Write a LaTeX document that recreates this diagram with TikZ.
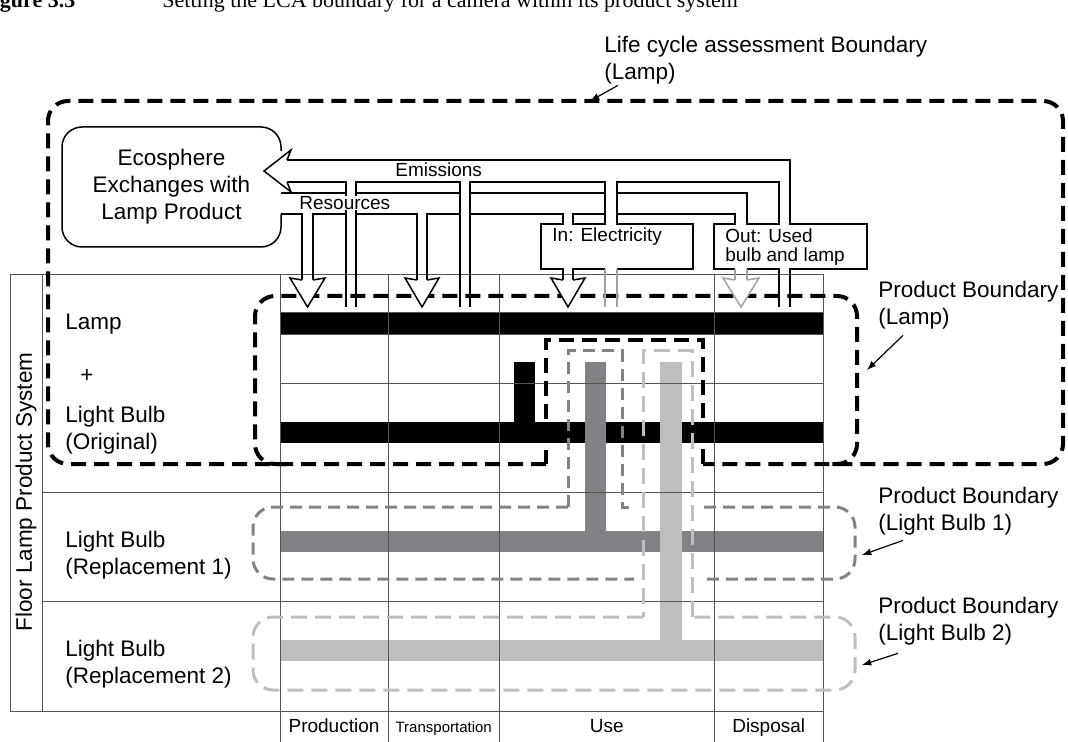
\documentclass[tikz,border=0pt]{standalone}
\usepackage{fontspec}
\setmainfont{Liberation Sans}
\newfontfamily\capfont{Liberation Serif}
\usetikzlibrary{calc}
\definecolor{bulbdark}{RGB}{128,130,133}
\definecolor{bulblight}{RGB}{188,190,192}
\definecolor{gridgray}{RGB}{85,85,85}

\begin{document}
\begin{tikzpicture}[x=0.5pt,y=-0.5pt,
    tablegrid/.style={gridgray, line width=0.5pt},
    pipe/.style={line width=0.75pt, line join=miter},
    graypipe/.style={pipe, bulblight!85!black},
    head/.style={pipe, fill=white},
    lcabound/.style={line width=2pt, dash pattern=on 7.5pt off 4pt},
    bulbbound/.style={bulbdark, line width=1.5pt, dash pattern=on 6pt off 3.5pt},
    bulbboundb/.style={bulblight, line width=1.5pt, dash pattern=on 8pt off 4pt},
    txt/.style={font=\fontsize{11.25}{13.5}\selectfont, inner sep=0pt},
    small/.style={font=\fontsize{9.5}{9.5}\selectfont, inner sep=0pt},
    pointer/.style={-latex, line width=0.6pt}]
    \useasboundingbox (0,0) rectangle (1068,742);
    % Caption (cut off at the top)
    \node[anchor=base west, inner sep=0pt, font=\capfont\fontsize{11}{13}\selectfont\bfseries] (figno) at (-20,8) {Figure 3.3};
    \node[anchor=base west, inner sep=0pt, font=\capfont\fontsize{11}{13}\selectfont] (figcap) at (162,8) {Setting the LCA boundary for a camera within its product system};
    % Bars of the product system
    \fill (280,313) rectangle (823,335);
    \fill (280,422) rectangle (823,443);
    \fill (513.5,362) rectangle (535,443);
    \fill[bulbdark] (280,531) rectangle (823,552);
    \fill[bulbdark] (585,362) rectangle (606,552);
    \fill[bulblight] (280,640) rectangle (823,661);
    \fill[bulblight] (660,362) rectangle (682,661);
    % Table
    \draw[tablegrid] (10,275) rectangle (823,711);
    \draw[tablegrid] (42,275) -- (42,711);
    \foreach \x in {280,388.5,499,714.5,823}
      \draw[tablegrid] (\x,275) -- (\x,742);
    \draw[tablegrid] (42,492) -- (823,492);
    \draw[tablegrid] (42,601.5) -- (823,601.5);
    \foreach \y in {313,335,383}
      \draw[tablegrid] (280,\y) -- (823,\y);
    % Life cycle assessment boundary
    \draw[lcabound, rounded corners=10pt] (546,464) -- (48,464) -- (48,101) -- (1063,101) -- (1063,464) -- (703,464);
    \draw[lcabound] (703,464) -- (703,340) -- (546,340) -- (546,464);
    % Product boundary (lamp)
    \draw[lcabound, rounded corners=10pt] (285,464) -- (255,464) -- (255,296) -- (857,296) -- (857,464) -- (830,464);
    % Product boundary (light bulb 1)
    \draw[bulbbound, rounded corners=10pt] (568,507) -- (253,507) -- (253,579) -- (634,579);
    \draw[bulbbound] (568,507) -- (568,351) -- (622,351) -- (622,507) -- (631,507);
    \draw[bulbbound, rounded corners=10pt] (704,507) -- (855,507) -- (855,579) -- (705,579);
    % Product boundary (light bulb 2)
    \draw[bulbboundb, rounded corners=10pt] (643,617) -- (253,617) -- (253,690) -- (855,690) -- (855,617) -- (692,617);
    \draw[bulbboundb] (692,617) -- (692,351) -- (643,351) -- (643,617);
    % Ecosphere box
    \draw[pipe, rounded corners=10pt] (281,214) -- (281,247) -- (62,247) -- (62,127) -- (281,127) -- (281,151);
    \node[txt, align=center] (eco) at (171.5,187) {Ecosphere\\Exchanges with\\Lamp Product};
    % Emissions pipe
    \draw[pipe] (287,160) -- (790,160) -- (790,224) -- (867,224) -- (867,269) -- (790,269) -- (790,307);
    \draw[pipe] (287,182) -- (346,182) -- (346,307);
    \draw[pipe] (356,307) -- (356,182) -- (460,182) -- (460,307);
    \draw[pipe] (470,307) -- (470,182) -- (605,182) -- (605,224) -- (573,224) -- (573,214) -- (605,214);
    \draw[pipe] (617,269) -- (693,269) -- (693,224) -- (617,224) -- (617,182) -- (779,182) -- (779,224) -- (747,224) -- (747,193) -- (617,193);
    \draw[head] (287,160) -- (291,150) -- (264,171) -- (291,192) -- (287,182);
    % Resources pipe
    \draw[pipe] (281,193) -- (346,193);
    \draw[pipe] (356,193) -- (460,193);
    \draw[pipe] (470,193) -- (605,193);
    \draw[pipe] (281,214) -- (302,214) -- (302,280);
    \draw[pipe] (313,280) -- (313,214) -- (346,214);
    \draw[pipe] (356,214) -- (417,214) -- (417,280);
    \draw[pipe] (427,280) -- (427,214) -- (460,214);
    \draw[pipe] (470,214) -- (563,214) -- (563,224) -- (541,224) -- (541,269) -- (563,269) -- (563,280);
    \draw[pipe] (573,280) -- (573,269) -- (605,269);
    \draw[pipe] (617,214) -- (735,214) -- (735,224) -- (714,224) -- (714,269) -- (735,269);
    \draw[pipe] (747,269) -- (779,269) -- (779,307);
    \draw[graypipe] (605,269) -- (605,307);
    \draw[graypipe] (617,269) -- (617,307);
    \draw[graypipe] (735,269) -- (735,280);
    \draw[graypipe] (747,269) -- (747,280);
    % Arrow heads into the stages
    \draw[head] (302,280) -- (290,278) -- (307.5,307) -- (325,278) -- (313,280);
    \draw[head] (417,280) -- (405,278) -- (422,307) -- (439,278) -- (427,280);
    \draw[head] (563,280) -- (551,278) -- (568,307) -- (585,278) -- (573,280);
    \draw[graypipe, fill=white] (735,280) -- (723,278) -- (741,307) -- (759,278) -- (747,280);
    % Pipe labels
    \node[small, anchor=base west] (emis) at (395,177) {Emissions};
    \node[small, anchor=base west, fill=white, inner xsep=1pt] (res) at (297,209.5) {Resources};
    \node[small, anchor=base west] (elec) at (552,242) {In: Electricity};
    \node[small, anchor=north west, align=left] (used) at (725,228) {Out: Used\\bulb and lamp};
    % Row labels
    \node[txt, rotate=90] (system) at (26,492) {Floor Lamp Product System};
    \node[txt, anchor=base west] (lamp) at (65,330) {Lamp};
    \node[txt] (plus) at (87,376) {+};
    \node[txt, anchor=north west, align=left] (orig) at (65,405.3) {Light Bulb\\(Original)};
    \node[txt, anchor=north west, align=left] (repA) at (65,530.6) {Light Bulb\\(Replacement 1)};
    \node[txt, anchor=north west, align=left] (repB) at (65,639.6) {Light Bulb\\(Replacement 2)};
    % Stage labels
    \node[small, anchor=base] (prod) at (334,732) {Production};
    \node[font=\fontsize{7.5}{9}\selectfont, inner sep=0pt, anchor=base] (trans) at (443.7,732) {Transportation};
    \node[small, anchor=base] (use) at (606.7,732) {Use};
    \node[small, anchor=base] (disp) at (768.7,732) {Disposal};
    % Boundary labels
    \node[txt, anchor=north west, align=left] (lcaLbl) at (604,35.6) {Life cycle assessment Boundary\\(Lamp)};
    \node[txt, anchor=north west, align=left] (pbLamp) at (878,280.6) {Product Boundary\\(Lamp)};
    \node[txt, anchor=north west, align=left] (pbBulbA) at (878,486.6) {Product Boundary\\(Light Bulb 1)};
    \node[txt, anchor=north west, align=left] (pbBulbB) at (878,596.6) {Product Boundary\\(Light Bulb 2)};
    \coordinate (lcaTip) at (590,101);
    \coordinate (lampTip) at (867,370);
    \coordinate (bulbATip) at (862,555);
    \coordinate (bulbBTip) at (862,665);
    \draw[pointer] ($(lcaLbl.south west)+(14,1)$) -- (lcaTip);
    \draw[pointer] ($(pbLamp.south west)+(25,6)$) -- (lampTip);
    \draw[pointer] ($(pbBulbA.south west)+(25,5)$) -- (bulbATip);
    \draw[pointer] ($(pbBulbB.south west)+(20,8)$) -- (bulbBTip);
\end{tikzpicture}
\end{document}
